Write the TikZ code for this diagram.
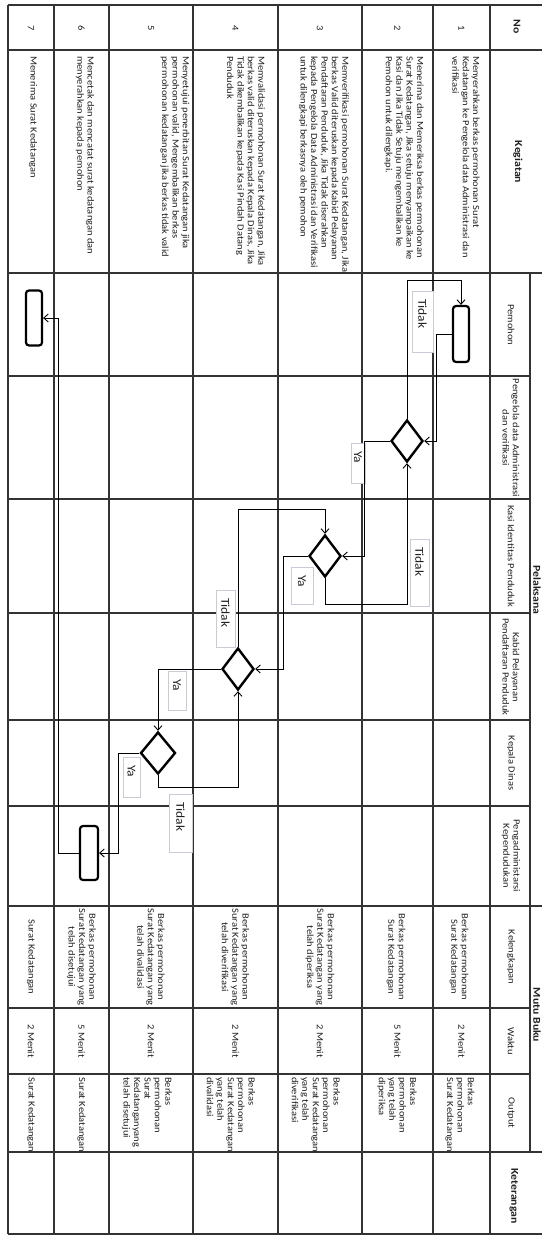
\documentclass[tikz,border=0pt]{standalone}
\usepackage{fontspec}
\setmainfont{Carlito}[FakeStretch=1.12]
\usetikzlibrary{arrows.meta,shapes.geometric}
\definecolor{ink}{HTML}{222222}
\definecolor{gridc}{HTML}{333333}
\definecolor{boxgray}{HTML}{C9CBD6}
\begin{document}
\begin{tikzpicture}[x=1pt,y=-1pt,
  gridline/.style={draw=gridc, line width=1.1pt},
  celltxt/.style={rotate=-90, inner sep=0pt, text=ink, font=\fontsize{9.4}{10.4}\selectfont},
  hdr/.style={rotate=-90, inner sep=0pt, text=ink, font=\fontsize{10.5}{11}\selectfont\bfseries},
  term/.style={draw=black, line width=2.2pt, rounded corners=3pt, minimum width=16pt, minimum height=56pt, inner sep=0pt},
  dec/.style={diamond, draw=black, line width=2.4pt, minimum width=32pt, minimum height=42pt, inner sep=0pt},
  arr/.style={draw=black, line width=0.9pt, -{Straight Barb[length=4.5pt,width=8pt]}},
  lbl/.style={draw=boxgray, line width=0.7pt, fill=white, rotate=-90, font=\fontsize{12}{13}\selectfont, text=ink, align=left, inner xsep=8pt, inner ysep=0pt}
]
\useasboundingbox (0,0) rectangle (542,1236);
\fill[white] (0,0) rectangle (542,1236);
% grid
\foreach \yy in {5,50,273,906,1152,1234} \draw[gridline] (8,\yy) -- (542,\yy);
\foreach \yy in {376,499,613,720,806,1008,1074} \draw[gridline] (8,\yy) -- (530,\yy);
\foreach \xx in {8,54,109,193,278,362,433,490} \draw[gridline] (\xx,5) -- (\xx,1234);
\draw[gridline] (530,273) -- (530,1152);
% headers
\node[hdr] (hNo) at (517,27) {No};
\node[hdr] (hKeg) at (518,162) {Kegiatan};
\node[hdr] (hPel) at (537,590) {Pelaksana};
\node[hdr] (hMutu) at (537,1015) {Mutu Buku};
\node[hdr] (hKet) at (514,1196) {Keterangan};
\node[celltxt] (sPem) at (511,325) {Pemohon};
\node[celltxt, align=center] (sPeng) at (511,438) {Pengelola data Administrasi\\dan verifikasi};
\node[celltxt] (sKasi) at (511,556) {Kasi Identitas Penduduk};
\node[celltxt, align=center] (sKabid) at (511,667) {Kabid Pelayanan\\Pendaftaran Penduduk};
\node[celltxt] (sKep) at (511,763) {Kepala Dinas};
\node[celltxt, align=center] (sAdm) at (511,856) {Pengadministarsi\\Kependudukan};
\node[celltxt] (sKel) at (511,957) {Kelengkapan};
\node[celltxt] (sWak) at (511,1041) {Waktu};
\node[celltxt] (sOut) at (511,1113) {Output};
% numbers
\node[celltxt] (n1) at (461.5,28) {1};
\node[celltxt] (n2) at (397.5,28) {2};
\node[celltxt] (n3) at (320,28) {3};
\node[celltxt] (n4) at (235.5,28) {4};
\node[celltxt] (n5) at (151,28) {5};
\node[celltxt] (n6) at (81.5,28) {6};
\node[celltxt] (n7) at (31,28) {7};
% kegiatan
\node[celltxt, anchor=west, align=left] (k1) at (466,56) {Menyerahkan berkas permohonan Surat\\Kedatangan ke Pengelola data Administrasi dan\\verifikasi};
\node[celltxt, anchor=west, align=left] (k2) at (404,56) {Menerima dan Memeriksa berkas permohonan\\Surat Kedatangan, Jika setuju menyampaikan ke\\Kasi dan Jika Tidak Setuju mengembalikan ke\\Pemohon untuk dilengkapi.};
\node[celltxt, anchor=west, align=left] (k3) at (324,56) {Memverifikasi permohonan Surat Kedatangan, Jika\\berkas Valid diteruskan kepada Kabid Pelayanan\\Pendaftaran Penduduk, Jika Tidak diserahkan\\kepada Pengelola Data Administrasi dan Verifikasi\\untuk dilengkapi berkasnya oleh pemohon};
\node[celltxt, anchor=west, align=left] (k4) at (246,56) {Memvalidasi permohonan Surat Kedatangan, Jika\\berkas valid diteruskan kepada Kepala Dinas, Jika\\Tidak dikembalikan kepada Kasi Pindah Datang\\Penduduk};
\node[celltxt, anchor=west, align=left] (k5) at (175,56) {Menyetujui penerbitan Surat Kedatangan jika\\permohonan valid, Mengembalikan berkas\\permohonan kedatangan jika berkas tidak valid};
\node[celltxt, anchor=west, align=left] (k6) at (85,56) {Mencetak dan mencatat surat kedatangan dan\\menyerahkan kepada pemohon};
\node[celltxt, anchor=west, align=left] (k7) at (33,56) {Menerima Surat Kedatangan};
% kelengkapan
\node[celltxt, align=center] (l1) at (459,957) {Berkas permohonan\\Surat Kedatangan};
\node[celltxt, align=center] (l2) at (396,957) {Berkas permohonan\\Surat Kedatangan};
\node[celltxt, align=center] (l3) at (320,957) {Berkas permohonan\\Surat Kedatangan yang\\telah diperiksa};
\node[celltxt, align=center] (l4) at (235.5,957) {Berkas permohonan\\Surat Kedatangan yang\\telah diverifikasi};
\node[celltxt, align=center] (l5) at (151,957) {Berkas permohonan\\Surat Kedatangan yang\\telah divalidasi};
\node[celltxt, align=center] (l6) at (81.5,957) {Berkas permohonan\\Surat Kedatangan yang\\telah disetujui};
\node[celltxt, align=center] (l7) at (31,957) {Surat Kedatangan};
% waktu
\node[celltxt] (w1) at (461.5,1041) {2 Menit};
\node[celltxt] (w2) at (397.5,1041) {5 Menit};
\node[celltxt] (w3) at (320,1041) {2 Menit};
\node[celltxt] (w4) at (235.5,1041) {2 Menit};
\node[celltxt] (w5) at (151,1041) {2 Menit};
\node[celltxt] (w6) at (81.5,1041) {5 Menit};
\node[celltxt] (w7) at (31,1041) {2 Menit};
% output
\node[celltxt, anchor=west, align=left] (o1) at (460,1077) {Berkas\\permohonan\\Surat Kedatangan};
\node[celltxt, anchor=west, align=left] (o2) at (397,1077) {Berkas\\permohonan\\yang telah\\diperiksa};
\node[celltxt, anchor=west, align=left] (o3) at (316,1077) {Berkas\\permohonan\\Surat Kedatangan\\yang telah\\diverifikasi};
\node[celltxt, anchor=west, align=left] (o4) at (231,1077) {Berkas\\permohonan\\Surat Kedatangan\\yang telah\\divalidasi};
\node[celltxt, anchor=west, align=left] (o5) at (147,1077) {Berkas\\permohonan\\Surat\\Kedatanganyang\\telah disetujui};
\node[celltxt, anchor=west, align=left] (o6) at (81.5,1077) {Surat Kedatangan};
\node[celltxt, anchor=west, align=left] (o7) at (31,1077) {Surat Kedatangan};
% flowchart shapes
\node[term] (R1) at (461,334) {};
\node[dec] (D1) at (407,441) {};
\node[dec] (D2) at (325,556) {};
\node[dec] (D3) at (238,669) {};
\node[dec, minimum width=35pt] (D4) at (158,753) {};
\node[term, minimum width=18pt, minimum height=54pt] (R2) at (89,853) {};
\node[term, minimum height=55pt] (R3) at (34,318) {};
% labels
\node[lbl, text width=45pt, minimum height=21pt] (t1) at (422.5,321.5) {Tidak};
\node[lbl, text width=24pt, minimum height=14pt] (y1) at (358,463) {Ya};
\node[lbl, text width=51pt, minimum height=19pt] (t2) at (419.5,572.5) {Tidak};
\node[lbl, text width=21pt, minimum height=22pt] (y2) at (302,585.5) {Ya};
\node[lbl, text width=41pt, minimum height=19pt] (t3) at (225.5,618.5) {Tidak};
\node[lbl, text width=23pt, minimum height=18pt] (y3) at (177,690.5) {Ya};
\node[lbl, text width=42pt, minimum height=23pt] (t4) at (180.5,823) {Tidak};
\node[lbl, text width=24pt, minimum height=17pt] (y4) at (131.5,777) {Ya};
% connectors
\draw[arr] (R1.west) -- ++(-15,0) |- (D1.east);
\draw[arr] (D1.north) -- ++(0,-138) -| (R1.north);
\draw[arr] (D1.west) -- ++(-25,0) |- (D2.east);
\draw[arr] (D2.south) -- ++(0,26) -| (D1.south);
\draw[arr] (D2.west) -- ++(-24,0) |- (D3.east);
\draw[arr] (D3.north) -- ++(0,-137) -| (D2.north);
\draw[arr] (D3.west) -| (D4.north);
\draw[arr] (D4.south) -- ++(0,12) -| (D3.south);
\draw[arr] (D4.west) -- ++(-21,0) |- (R2.east);
\draw[arr] (R2.west) -- ++(-20,0) |- (R3.east);
\end{tikzpicture}
\end{document}
